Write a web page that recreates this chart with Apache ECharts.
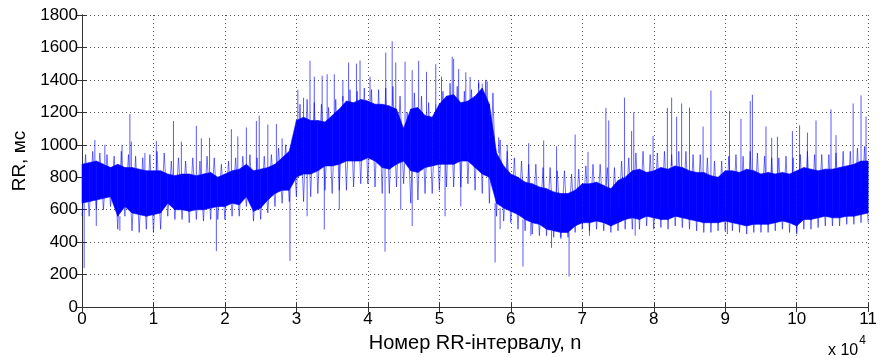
<!DOCTYPE html>
<html><head><meta charset="utf-8">
<script src="https://cdn.jsdelivr.net/npm/echarts@6/dist/echarts.min.js"></script>
<style>html,body{margin:0;padding:0;background:#fff}#c{width:880px;height:358px}</style>
</head><body><div id="c"></div>
<script>
// RR-interval number step between samples of the band arrays
const step = 1000;
// dense core of the trace (ms), one value per 1000 RR-intervals, n = 0..110000
const coreLo = [640,650,660,670,680,560,620,580,570,560, 570,580,640,600,600,590,600,600,610,620,
  620,640,630,680,590,610,660,700,720,720, 800,820,820,840,870,870,880,900,900,900,
  920,900,860,850,880,900,840,830,860,870, 880,880,880,900,900,860,820,800,640,610,
  590,570,540,520,510,480,470,460,460,500, 520,520,530,520,500,520,540,550,540,560,
  550,540,540,560,550,540,530,520,520,520, 530,520,510,500,510,510,510,520,530,520,
  500,540,540,550,560,550,550,560,560,570, 580];
const coreHi = [880,890,900,880,860,880,860,860,850,840, 840,840,820,810,820,820,810,820,830,800,
  820,840,850,880,840,850,860,880,920,960, 1150,1170,1150,1150,1140,1180,1220,1270,1260,1280,
  1270,1250,1250,1240,1220,1100,1220,1230,1180,1170, 1250,1300,1310,1260,1270,1300,1350,1250,950,870,
  820,800,770,760,740,730,710,700,700,720, 760,760,770,750,730,780,800,840,850,830,
  840,860,850,870,860,840,830,830,810,800, 840,840,830,850,840,820,830,820,830,820,
  840,860,850,840,850,850,860,870,880,900, 900];
// ragged fringe around the core (typical extremes)
const edgeLo = [560,560,600,600,620,480,560,470,460,480, 460,480,560,540,540,520,540,530,540,540,
  540,560,560,620,530,540,580,620,640,650, 680,650,680,700,720,700,720,720,740,760,
  760,740,700,700,740,760,640,660,700,700, 720,740,740,740,760,720,700,640,560,530,
  520,480,470,450,440,440,430,430,430,460, 480,470,480,470,460,470,480,480,480,500,
  480,490,480,500,490,480,470,460,460,470, 470,470,460,450,460,460,460,470,480,460,
  450,480,480,490,500,500,500,510,510,520, 520];
const edgeHi = [940,960,950,940,930,960,940,930,920,940, 960,950,900,920,900,920,900,930,920,880,
  900,920,930,940,920,930,940,980,1000,1040, 1250,1280,1260,1250,1230,1280,1300,1340,1330,1350,
  1340,1340,1350,1360,1300,1200,1320,1300,1260,1250, 1330,1380,1360,1330,1340,1380,1400,1320,1030,960,
  920,900,880,880,860,860,840,840,820,850, 870,880,880,860,860,900,920,950,960,940,
  950,960,940,960,960,940,940,920,900,900, 930,940,930,960,950,930,920,920,930,920,
  940,960,940,940,940,950,960,960,980,990, 990];
// isolated tall spikes: position n and value (ms)
const spikeUpN = [1800,3200,5600,6700,6900,8800,10400,12800,13900,16000,16700,17850,20900,21800,23000,24400,24800,26000,27200,28000,
  30200,31000,31900,32500,33600,34300,35300,36500,37300,38400,38900,40300,42500,43400,43900,45200,46200,47100,48200,49500,
  50300,51800,52000,52700,53700,54300,55500,56000,56700,58300,59500,62500,64600,66400,69000,70800,73300,73700,75900,76900,
  77200,79900,81900,82500,83200,83900,85000,86900,88000,90600,92200,93500,93800,95700,96500,97300,99400,100400,101500,102700,
  104800,105500,107900,109000,109700];
const spikeUpV = [1030,1000,1000,1190,1020,950,1024,1147,1020,1117,1040,1043,1097,1052,1107,1147,1180,1125,1129,1040,
  1340,1290,1517,1420,1426,1435,1435,1400,1507,1500,1520,1420,1568,1638,1507,1513,1460,1517,1450,1497,
  1420,1543,1530,1467,1447,1418,1400,1376,1390,1046,1000,1010,1027,991,1063,957,1228,1150,1291,1085,
  1200,1055,1228,1291,1174,1255,1230,1113,1335,1208,1160,1270,1309,1113,1043,1050,1085,1120,1075,1150,
  1218,1060,1255,1305,1174];
const spikeDnN = [300,2000,5300,18800,29100,31500,33900,36000,42400,44600,46200,50800,53000,57800,58500,61700,62800,65700,67000,68150,71000,77400,90300,100000];
const spikeDnV = [240,500,470,345,285,560,478,600,342,600,500,560,620,275,480,250,440,365,420,188,440,440,450,470];
const xTickLabels = ['0','1','2','3','4','5','6','7','8','9','10','11'];

const BLUE = '#0000ff';
const FONT = "'Liberation Sans', Arial, sans-serif";

const zig = [];
for (let i = 0; i < edgeLo.length; i++) {
  zig.push([i * step, edgeLo[i]]);
  if (i < edgeLo.length - 1) zig.push([i * step + step / 2, edgeHi[i]]);
}
const quads = [];
for (let i = 0; i < coreLo.length - 1; i++) {
  quads.push([i * step, coreLo[i], coreHi[i], (i + 1) * step, coreLo[i + 1], coreHi[i + 1]]);
}
const nearest = (arr, n) => arr[Math.min(arr.length - 1, Math.round(n / step))];
const spikes = [];
spikeUpN.forEach((n, k) => spikes.push([n, nearest(coreHi, n), spikeUpV[k]]));
spikeDnN.forEach((n, k) => spikes.push([n, nearest(coreLo, n), spikeDnV[k]]));

const axisCol = '#333';
const gridLine = {show: true, lineStyle: {type: [1, 3], color: '#555', width: 1}};
const chart = echarts.init(document.getElementById('c'), null, {renderer: 'canvas'});
chart.setOption({
  animation: false,
  textStyle: {fontFamily: FONT},
  grid: {left: 82, right: 8, top: 15, bottom: 46, containLabel: false},
  xAxis: [{
    type: 'value', min: 0, max: 110000, interval: 10000, position: 'bottom',
    axisLine: {show: true, lineStyle: {color: axisCol}},
    axisTick: {show: true, inside: true, length: 5, lineStyle: {color: axisCol}},
    axisLabel: {color: '#000', fontSize: 17, fontFamily: FONT, margin: 4, formatter: v => xTickLabels[Math.round(v / 10000)]},
    splitLine: gridLine,
    name: 'Номер RR-інтервалу, n', nameLocation: 'middle', nameGap: 20,
    nameTextStyle: {color: '#000', fontSize: 20, fontFamily: FONT}
  }, {
    type: 'value', min: 0, max: 110000, interval: 10000, position: 'top',
    axisLine: {show: true, lineStyle: {color: axisCol}},
    axisTick: {show: true, inside: true, length: 5, lineStyle: {color: axisCol}},
    axisLabel: {show: false}, splitLine: {show: false}
  }],
  yAxis: [{
    type: 'value', min: 0, max: 1800, interval: 200, position: 'left',
    axisLine: {show: true, lineStyle: {color: axisCol}},
    axisTick: {show: true, inside: true, length: 5, lineStyle: {color: axisCol}},
    axisLabel: {color: '#000', fontSize: 17, fontFamily: FONT, margin: 4, formatter: v => String(v)},
    splitLine: gridLine,
    name: 'RR, мс', nameLocation: 'middle', nameGap: 52, nameRotate: 90,
    nameTextStyle: {color: '#000', fontSize: 19, fontFamily: FONT}
  }, {
    type: 'value', min: 0, max: 1800, interval: 200, position: 'right',
    axisLine: {show: true, lineStyle: {color: axisCol}},
    axisTick: {show: true, inside: true, length: 5, lineStyle: {color: axisCol}},
    axisLabel: {show: false}, splitLine: {show: false}
  }],
  graphic: [{
    type: 'text', left: 828, top: 335,
    style: {
      text: '{a|x 10}{b|4}', fontFamily: FONT,
      rich: {a: {fontSize: 16, fill: '#000', padding: [8, 0, 0, 0]}, b: {fontSize: 12, fill: '#000', verticalAlign: 'top', padding: [0, 0, 0, 1]}}
    }
  }],
  series: [{
    type: 'line', data: zig, showSymbol: false, symbol: 'none', sampling: null,
    lineStyle: {color: BLUE, width: 1, opacity: 0.55}, z: 2
  }, {
    type: 'custom', data: quads, z: 3,
    renderItem: (params, api) => {
      const a = api.coord([api.value(0), api.value(1)]);
      const b = api.coord([api.value(3), api.value(4)]);
      const c = api.coord([api.value(3), api.value(5)]);
      const d = api.coord([api.value(0), api.value(2)]);
      return {type: 'polygon', shape: {points: [a, b, c, d]}, style: {fill: BLUE, stroke: BLUE, lineWidth: 0.6}};
    }
  }, {
    type: 'custom', data: spikes, z: 4,
    renderItem: (params, api) => {
      const p = api.coord([api.value(0), api.value(1)]);
      const q = api.coord([api.value(0), api.value(2)]);
      return {type: 'line', shape: {x1: p[0], y1: p[1], x2: q[0], y2: q[1]}, style: {stroke: BLUE, lineWidth: 1, opacity: 0.65}};
    }
  }]
});
</script></body></html>
